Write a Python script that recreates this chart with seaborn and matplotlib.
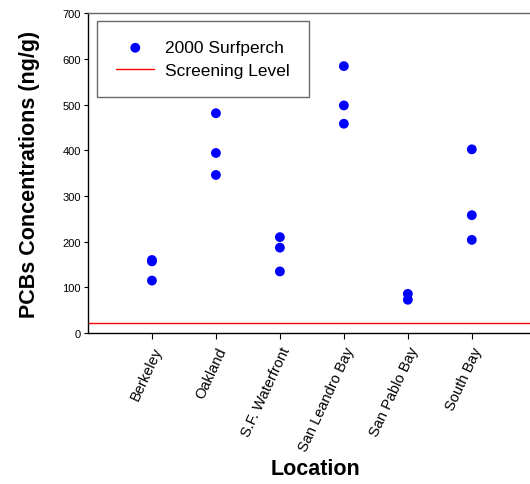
import matplotlib
matplotlib.use('Agg')
from matplotlib import pyplot as plt
import seaborn as sns
import pandas as pd

# values
locations = ['Berkeley', 'Oakland', 'S.F. Waterfront', 'San Leandro Bay', 'San Pablo Bay', 'South Bay']
berkeley = [160, 157, 115]
oakland = [481, 394, 346]
sf_waterfront = [210, 187, 135]
san_leandro = [584, 498, 458]
san_pablo = [86, 73]
south_bay = [402, 258, 204]
screening_level = 22

series = [berkeley, oakland, sf_waterfront, san_leandro, san_pablo, south_bay]
rows = []
for i, (loc, vals) in enumerate(zip(locations, series)):
    for v in vals:
        rows.append({'Location': loc, 'pos': i + 1, 'PCBs': v})
df = pd.DataFrame(rows)

sns.set_style('ticks')
plt.rcParams['font.family'] = ['Liberation Sans', 'DejaVu Sans']
plt.rcParams['text.color'] = 'black'
plt.rcParams['axes.labelcolor'] = 'black'
plt.rcParams['xtick.color'] = 'black'
plt.rcParams['ytick.color'] = 'black'

fig = plt.figure(figsize=(5.3, 4.85), dpi=100)
ax = fig.add_axes([0.166, 0.311, 0.86, 0.66])

sns.scatterplot(data=df, x='pos', y='PCBs', color='#0000ff', s=50,
                edgecolor='none', ax=ax, label='2000 Surfperch', zorder=3)
ax.axhline(screening_level, color='red', lw=1.0, label='Screening Level')

ax.set_xlim(0, 7.125)
ax.set_ylim(0, 700)
ax.set_yticks(range(0, 701, 100))
ax.set_xticks(range(1, 7))
ax.set_xticklabels(locations, rotation=65, ha='right', rotation_mode='anchor', fontsize=10.5)
ax.tick_params(axis='y', labelsize=8, length=3, width=0.8, pad=2)
ax.tick_params(axis='x', length=4, width=0.8, pad=4)

for side in ['left', 'bottom']:
    ax.spines[side].set_color('black')
    ax.spines[side].set_linewidth(1.0)
ax.spines['top'].set_visible(True)
ax.spines['top'].set_color('#666666')
ax.spines['top'].set_linewidth(1.0)
ax.spines['right'].set_visible(False)

ax.set_xlabel('Location', fontsize=15.5, fontweight='bold', labelpad=4)
ax.set_ylabel('PCBs Concentrations (ng/g)', fontsize=15.5, fontweight='bold', labelpad=16)

leg = ax.legend(loc='upper left', bbox_to_anchor=(0.02, 0.975), fontsize=12.5,
                frameon=True, fancybox=False, edgecolor='#444444',
                borderaxespad=0, borderpad=1.1, handlelength=2.2, handletextpad=0.6,
                labelspacing=0.45, markerscale=1.0)
leg.get_frame().set_linewidth(1.0)

fig.savefig('out.png', dpi=100)
